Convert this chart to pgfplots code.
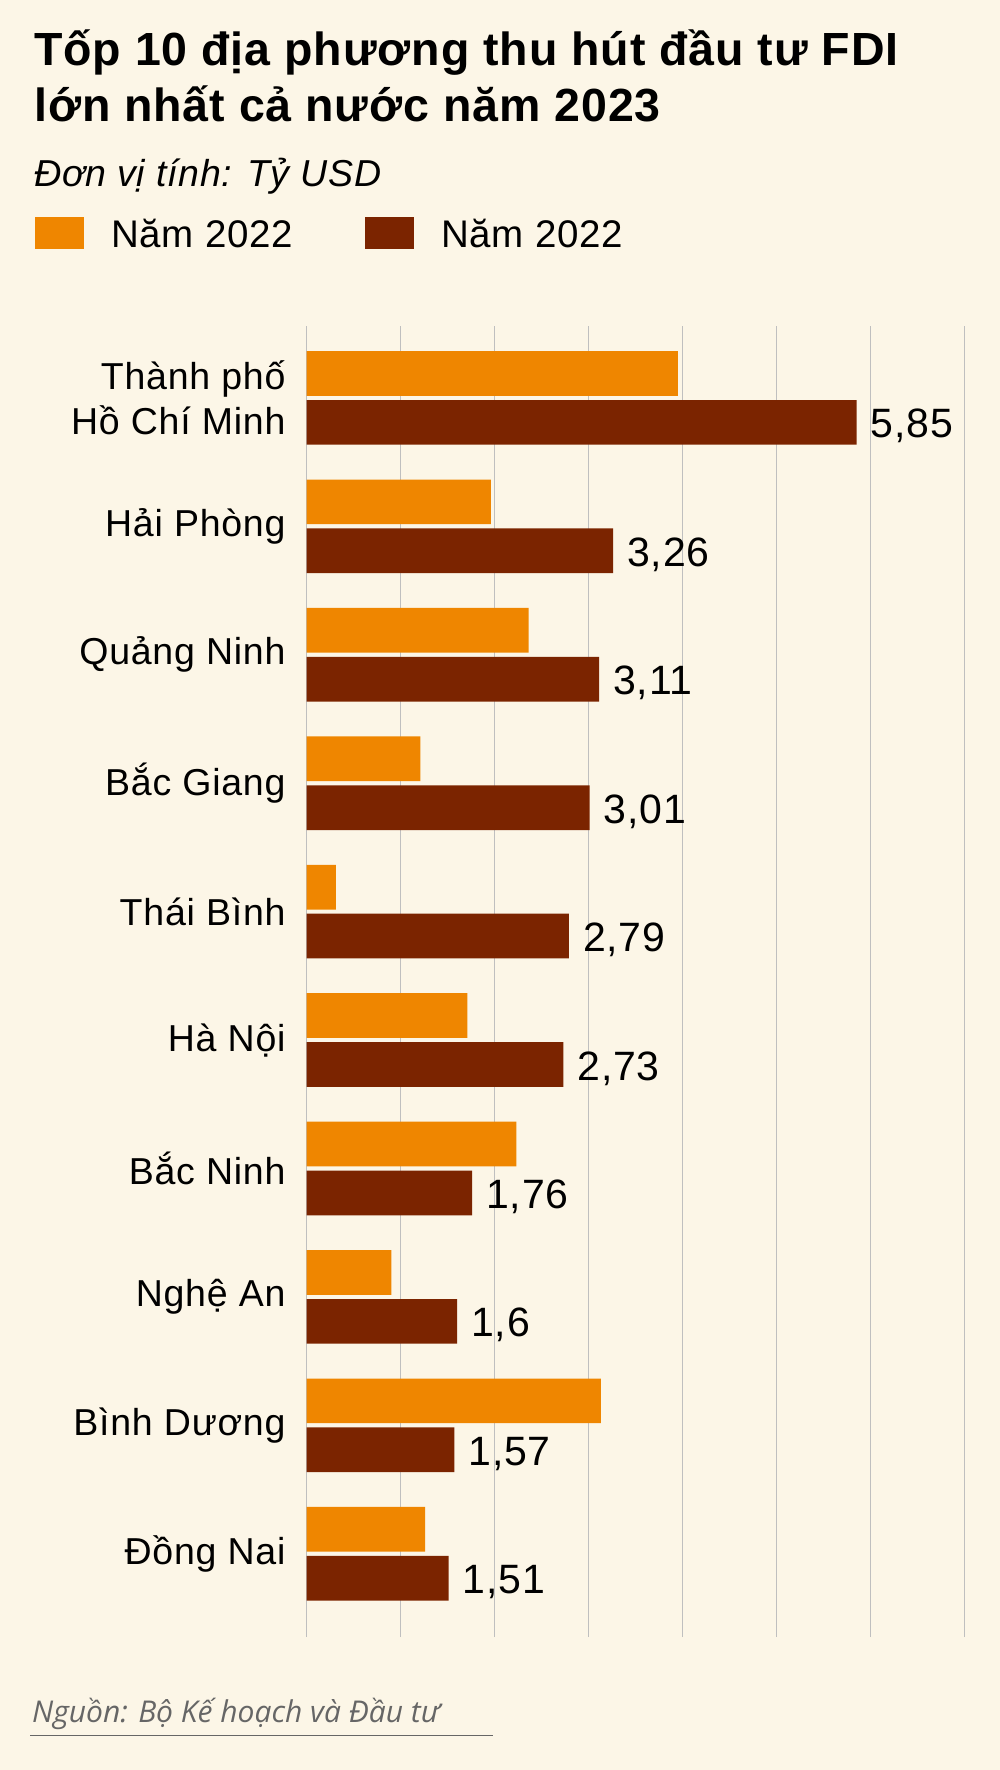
\documentclass[border=0pt]{standalone}
\usepackage{pgfplots}
\usepackage{pgfplotstable}
\pgfplotsset{compat=1.18}
\usepackage{fontspec}
\setmainfont{Liberation Sans}[LetterSpace=2]
\newfontfamily\srcfont{Open Sans}

\definecolor{nen}{HTML}{FCF6E7}
\definecolor{cam}{HTML}{EF8600}
\definecolor{nau}{HTML}{7B2400}
\definecolor{luoi}{HTML}{BFBFBF}
\definecolor{xam}{HTML}{666666}

% y: 9 = top row (TP HCM), 0 = bottom row (Dong Nai)
\pgfplotstableread{
y  v22  v23
9  3.95 5.85
8  1.96 3.26
7  2.36 3.11
6  1.21 3.01
5  0.31 2.79
4  1.71 2.73
3  2.23 1.76
2  0.90 1.60
1  3.13 1.57
0  1.26 1.51
}\fdi

\begin{document}
\begin{tikzpicture}[x=1pt,y=1pt]
\fill[nen] (0,0) rectangle (1000,-1770);

% title, unit, legend
\node[anchor=base west, inner sep=0pt, font=\fontsize{46.5}{52}\selectfont\bfseries] at (34,-65.7) {Tốp 10 địa phương thu hút đầu tư FDI};
\node[anchor=base west, inner sep=0pt, font=\fontsize{46.5}{52}\selectfont\bfseries] at (34,-121) {lớn nhất cả nước năm 2023};
\node[anchor=base west, inner sep=0pt, font=\fontsize{37.5}{42}\selectfont\itshape] at (34,-186.7) {Đơn vị tính: Tỷ USD};
\fill[cam] (35,-217.3) rectangle (83.7,-248.7);
\node[anchor=base west, inner sep=0pt, font=\fontsize{38.5}{44}\selectfont] at (111,-247.7) {Năm 2022};
\fill[nau] (365,-217.3) rectangle (414,-248.7);
\node[anchor=base west, inner sep=0pt, font=\fontsize{38.5}{44}\selectfont] at (441,-247.7) {Năm 2022};

\begin{axis}[
    at={(306.7pt,-1637pt)}, anchor=south west,
    scale only axis, width=658pt, height=1311pt,
    xmin=0, xmax=7, ymin=-0.648, ymax=9.56,
    enlargelimits=false, clip=false,
    xbar,
    axis line style={draw=none},
    major tick length=0pt,
    xtick={0,...,7}, xticklabels={},
    xmajorgrids, grid style={luoi, line width=1.2pt},
    ytick={0,...,9},
    yticklabels={Đồng Nai, Bình Dương, Nghệ An, Bắc Ninh, Hà Nội, Thái Bình, Bắc Giang, Quảng Ninh, Hải Phòng, {Thành phố\\Hồ Chí Minh}},
    yticklabel style={font=\fontsize{37.5}{45}\selectfont, align=right, inner sep=0pt, xshift=-21pt},
    /pgf/number format/use comma,
    /pgf/number format/assume math mode=true,
]
\addplot[xbar, fill=cam, draw=none, bar width=0.348, bar shift=0.1905] table[x=v22, y=y] {\fdi};
\addplot[xbar, fill=nau, draw=none, bar width=0.348, bar shift=-0.1905,
    point meta=x, nodes near coords,
    nodes near coords style={anchor=base west, inner sep=0pt, xshift=14pt, yshift=-15.5pt,
        font=\fontsize{41}{47}\selectfont, text=black}]
    table[x=v23, y=y] {\fdi};
\end{axis}

% source
\node[anchor=base west, inner sep=0pt, text=xam, font=\srcfont\itshape\fontsize{30}{36}\selectfont] at (32,-1722.7) {Nguồn: Bộ Kế hoạch và Đầu tư};
\draw[xam, line width=1.5pt] (30,-1735.3) -- (492.7,-1735.3);
\end{tikzpicture}
\end{document}
